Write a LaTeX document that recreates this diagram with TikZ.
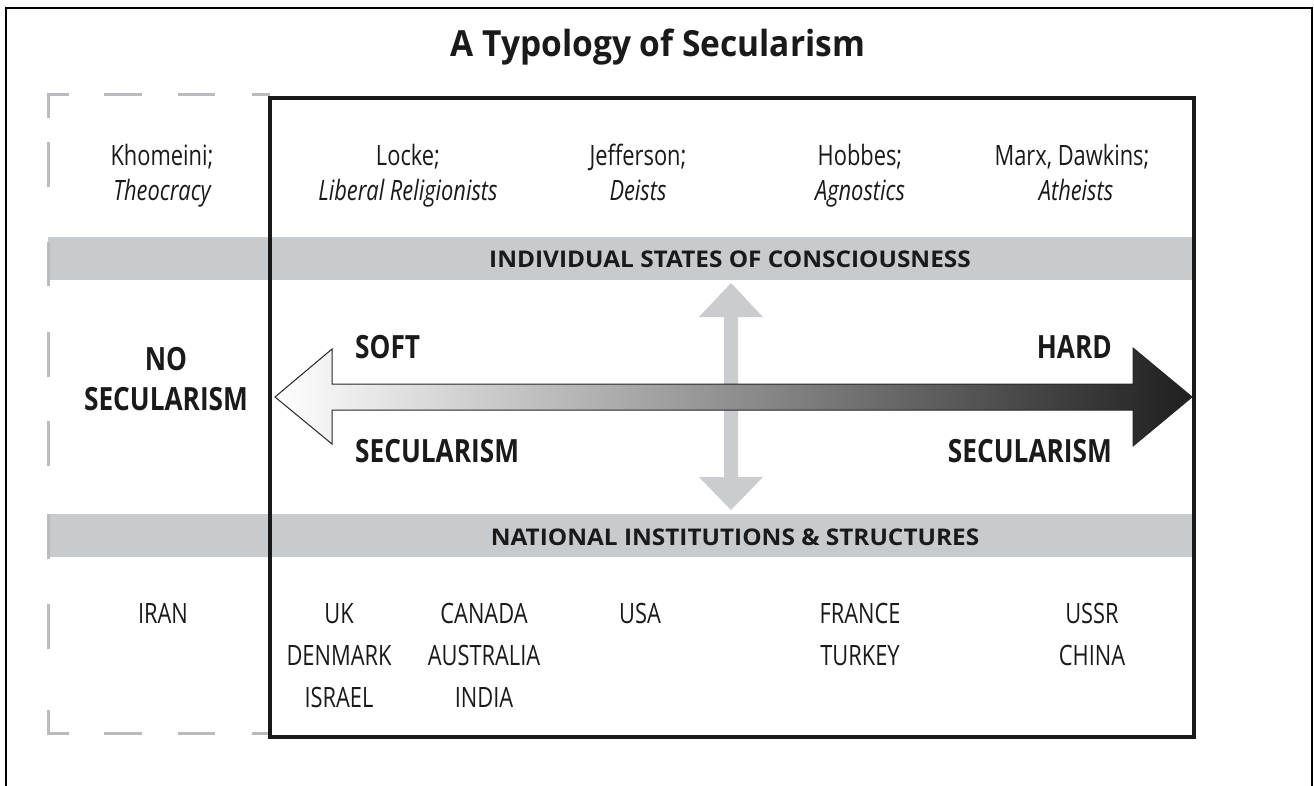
\documentclass[tikz,border=0pt]{standalone}
\usepackage{fontspec}
\setmainfont{Open Sans}
\newfontfamily\cnd[FakeStretch=0.78]{Open Sans}
\newfontfamily\bcnd[FakeStretch=0.82]{Open Sans}
\newfontfamily\ttlf[FakeStretch=0.93]{Open Sans}
\newfontfamily\bandf[FakeStretch=1.06]{Open Sans}
\definecolor{bandgray}{HTML}{C8CBCE}
\definecolor{dashgray}{HTML}{B9BBBF}
\definecolor{arrowgray}{HTML}{CACCCF}
\definecolor{txt}{HTML}{1A1A1A}
\begin{document}
\begin{tikzpicture}[x=1pt,y=-1pt,
  lbl/.style={font=\cnd\fontsize{28}{30}\selectfont, text=txt, inner sep=0pt, anchor=base},
  ilbl/.style={lbl, font=\cnd\itshape\fontsize{28}{30}\selectfont},
  big/.style={font=\bcnd\bfseries\fontsize{32}{34}\selectfont, text=txt, inner sep=0pt, anchor=base},
  ttl/.style={font=\ttlf\bfseries\fontsize{36}{38}\selectfont, text=txt, inner sep=0pt, anchor=base},
  bandtxt/.style={font=\bandf\bfseries\fontsize{23}{25}\selectfont, text=txt, inner sep=0pt, anchor=base},
  dsh/.style={draw=dashgray, line width=3pt, line cap=butt},
  frame/.style={draw=black, line width=2pt},
  mainbox/.style={draw=black!90, line width=4pt},
]
\fill[white] (0,0) rectangle (1314,786);
\useasboundingbox (0,0) rectangle (1314,786);

% outer frame
\draw[frame] (6,786) -- (6,8) -- (1312,8) -- (1312,786);

% gray bands
\fill[bandgray] (48,237) rectangle (1194,280);
\fill[bandgray] (48,514) rectangle (1194,557);

% dashed box
\draw[dsh] (69,95) -- (48,95) -- (48,118);
\draw[dsh] (69,733) -- (48,733) -- (48,710);
\foreach \a/\b in {104/142,178/215,252/270}{
  \draw[dsh] (\a,95) -- (\b,95);
  \draw[dsh] (\a,733) -- (\b,733);
}
\foreach \a/\b in {142/187,242/286,332/377,421/466,514/559,604/649}{
  \draw[dsh] (48,\a) -- (48,\b);
}

% main box
\draw[mainbox] (270,98) rectangle (1194,737);

% vertical double arrow
\fill[arrowgray] (731,283) -- (763,317) -- (738,317) -- (738,477) -- (763,477) -- (731,510)
  -- (699,477) -- (724,477) -- (724,317) -- (699,317) -- cycle;

% horizontal gradient arrow
\shadedraw[left color=white, right color=black!88, draw=black!85, line width=1pt]
  (275,397) -- (332,349) -- (332,384) -- (1133,384) -- (1133,348) -- (1192,397)
  -- (1133,446) -- (1133,410) -- (332,410) -- (332,444) -- cycle;

% title
\node[ttl] (title) at (658,57) {A Typology of Secularism};

% top row
\node[lbl]  (kh)  at (162,166) {Khomeini;};
\node[ilbl] (kh2) at (162,201) {Theocracy};
\node[lbl]  (lo)  at (408,166) {Locke;};
\node[ilbl] (lo2) at (408,201) {Liberal Religionists};
\node[lbl]  (je)  at (638,166) {Jefferson;};
\node[ilbl] (je2) at (638,201) {Deists};
\node[lbl]  (ho)  at (860,166) {Hobbes;};
\node[ilbl] (ho2) at (860,201) {Agnostics};
\node[lbl]  (ma)  at (1072,166) {Marx, Dawkins;};
\node[ilbl] (ma2) at (1076,201) {Atheists};

% bands text
\node[bandtxt] (isc) at (730,268) {INDIVIDUAL STATES OF CONSCIOUSNESS};
\node[bandtxt] (nis) at (735,545) {NATIONAL INSTITUTIONS \& STRUCTURES};

% middle labels
\node[big] (no)  at (166,370) {NO};
\node[big] (nos) at (166,410) {SECULARISM};
\node[big, anchor=base west] (soft)  at (355,358) {SOFT};
\node[big, anchor=base west] (ssec)  at (355,462) {SECULARISM};
\node[big, anchor=base east] (hard)  at (1112,358) {HARD};
\node[big, anchor=base east] (hsec)  at (1112,462) {SECULARISM};

% countries
\node[lbl] (iran) at (163,623) {IRAN};
\node[lbl] (uk)   at (339,623) {UK};
\node[lbl] (dk)   at (339,665) {DENMARK};
\node[lbl] (il)   at (339,707) {ISRAEL};
\node[lbl] (ca)   at (484,623) {CANADA};
\node[lbl] (au)   at (484,665) {AUSTRALIA};
\node[lbl] (in)   at (484,707) {INDIA};
\node[lbl] (us)   at (640,623) {USA};
\node[lbl] (fr)   at (860,623) {FRANCE};
\node[lbl] (tr)   at (860,665) {TURKEY};
\node[lbl] (su)   at (1092,623) {USSR};
\node[lbl] (cn)   at (1092,665) {CHINA};
\end{tikzpicture}
\end{document}
